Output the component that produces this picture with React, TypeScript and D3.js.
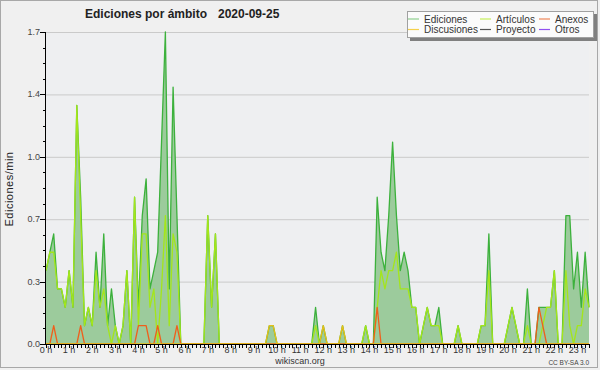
import * as d3 from "d3"

// Ediciones/min, tramos de 10 minutos desde 00:00 (12 tramos = 2 horas por fila)
const ediciones = [
  0.4, 0.5, 0.6, 0.3, 0.3, 0.2, 0.4, 0.2, 1.3, 0.8, 0.1, 0.2,
  0.1, 0.5, 0.2, 0.6, 0.1, 0.3, 0.1, 0, 0.1, 0.4, 0, 0.8,
  0.2, 0.7, 0.9, 0.3, 0.4, 0.5, 1.1, 1.7, 0.3, 1.4, 0.7, 0,
  0, 0, 0, 0, 0, 0, 0.7, 0.2, 0.6, 0, 0, 0,
  0, 0, 0, 0, 0, 0, 0, 0, 0, 0, 0.1, 0.1,
  0, 0, 0, 0, 0, 0, 0, 0, 0, 0, 0.2, 0,
  0.1, 0, 0, 0, 0, 0.1, 0, 0, 0, 0, 0, 0.1,
  0, 0, 0.8, 0.5, 0.4, 0.7, 1.1, 0.7, 0.4, 0.5, 0.4, 0.2,
  0.2, 0, 0.1, 0.2, 0.1, 0.1, 0.2, 0, 0, 0, 0, 0.1,
  0, 0, 0, 0, 0, 0.1, 0.1, 0.6, 0, 0, 0, 0,
  0.1, 0.2, 0.1, 0, 0, 0.3, 0, 0, 0.2, 0.2, 0.2, 0.2,
  0.4, 0, 0, 0.7, 0.7, 0.3, 0.5, 0.2, 0.5, 0.2,
]

const articulos = [
  0.4, 0.5, 0.5, 0.3, 0.3, 0.2, 0.4, 0.2, 1.3, 0.7, 0.1, 0.2,
  0.1, 0.4, 0.2, 0.3, 0.1, 0, 0.1, 0, 0.1, 0.4, 0, 0.8,
  0.1, 0.6, 0.6, 0.2, 0.3, 0, 0.3, 0.7, 0.1, 0.6, 0.5, 0,
  0, 0, 0, 0, 0, 0, 0.7, 0.2, 0.6, 0, 0, 0,
  0, 0, 0, 0, 0, 0, 0, 0, 0, 0, 0, 0,
  0, 0, 0, 0, 0, 0, 0, 0, 0, 0, 0.1, 0,
  0, 0, 0, 0, 0, 0, 0, 0, 0, 0, 0, 0.1,
  0, 0, 0.2, 0.4, 0.3, 0.4, 0.4, 0.5, 0.3, 0.3, 0.3, 0.2,
  0.2, 0, 0.1, 0.2, 0.1, 0.1, 0.1, 0, 0, 0, 0, 0.1,
  0, 0, 0, 0, 0, 0.1, 0.1, 0.4, 0, 0, 0, 0,
  0.1, 0.2, 0.1, 0, 0, 0.1, 0, 0, 0, 0.1, 0.2, 0.2,
  0.4, 0, 0, 0.4, 0.1, 0, 0.1, 0.1, 0.3, 0.2,
]

const anexos = [
  0, 0, 0.1, 0, 0, 0, 0, 0, 0, 0.1, 0, 0,
  0, 0, 0, 0, 0, 0, 0, 0, 0, 0, 0, 0,
  0.1, 0.1, 0.1, 0, 0, 0.1, 0, 0, 0, 0, 0.1, 0,
  0, 0, 0, 0, 0, 0, 0, 0, 0, 0, 0, 0,
  0, 0, 0, 0, 0, 0, 0, 0, 0, 0, 0, 0,
  0, 0, 0, 0, 0, 0, 0, 0, 0, 0, 0, 0,
  0, 0, 0, 0, 0, 0, 0, 0, 0, 0, 0, 0,
  0, 0, 0.2, 0, 0, 0, 0, 0, 0, 0, 0, 0,
  0, 0, 0, 0, 0, 0, 0, 0, 0, 0, 0, 0,
  0, 0, 0, 0, 0, 0, 0, 0, 0, 0, 0, 0,
  0, 0, 0, 0, 0, 0, 0, 0, 0.2, 0.1, 0, 0,
  0, 0, 0, 0, 0, 0, 0, 0, 0, 0,
]

const discusiones = [
  0, 0, 0, 0, 0, 0, 0, 0, 0, 0, 0, 0,
  0, 0, 0, 0, 0, 0, 0, 0, 0, 0, 0, 0,
  0, 0, 0, 0, 0, 0, 0, 0, 0, 0, 0, 0,
  0, 0, 0, 0, 0, 0, 0, 0, 0, 0, 0, 0,
  0, 0, 0, 0, 0, 0, 0, 0, 0, 0, 0.1, 0.1,
  0, 0, 0, 0, 0, 0, 0, 0, 0, 0, 0, 0,
  0.1, 0, 0, 0, 0, 0.1, 0, 0, 0, 0, 0, 0,
  0, 0, 0, 0, 0, 0, 0, 0, 0, 0, 0, 0,
  0, 0, 0, 0, 0, 0, 0, 0, 0, 0, 0, 0,
  0, 0, 0, 0, 0, 0, 0, 0, 0, 0, 0, 0,
  0, 0, 0, 0, 0, 0, 0, 0, 0, 0, 0, 0,
  0, 0, 0, 0, 0, 0, 0, 0, 0, 0,
]

const horas = [
  "0 h", "1 h", "2 h", "3 h", "4 h", "5 h", "6 h", "7 h", "8 h", "9 h", "10 h", "11 h",
  "12 h", "13 h", "14 h", "15 h", "16 h", "17 h", "18 h", "19 h", "20 h", "21 h", "22 h", "23 h",
]

const yTicks = [0, 0.34, 0.68, 1.02, 1.36, 1.7]
const yTickLabels = ["0.0", "0.3", "0.7", "1.0", "1.4", "1.7"]

const leyenda = [
  { name: "Ediciones", color: "#8fd08f" },
  { name: "Artículos", color: "#c6f05a" },
  { name: "Anexos", color: "#f0875a" },
  { name: "Discusiones", color: "#f5d04a" },
  { name: "Proyecto", color: "#555555" },
  { name: "Otros", color: "#9050f0" },
]

const FONT = "'Liberation Sans', Arial, sans-serif"

export default function App() {
  const width = 600
  const height = 370
  const left = 46
  const right = 589
  const top = 32
  const bottom = 344

  const x = d3.scaleLinear().domain([0, ediciones.length - 1]).range([left, right])
  const y = d3.scaleLinear().domain([0, 1.7]).range([bottom, top])

  const area = d3
    .area<number>()
    .x((_, i) => x(i))
    .y0(y(0))
    .y1((d) => y(d))

  const line = d3
    .line<number>()
    .x((_, i) => x(i))
    .y((d) => y(d))

  // minor ticks: 4 per major step
  const yMinor = d3.range(0, 21).map((k) => (1.7 / 20) * k)

  const legendCols = [408, 480, 539]
  const legendRows = [19, 29.5]

  return (
    <div style={{ position: "absolute", left: 0, top: 0 }}>
      <svg width={width} height={height} style={{ display: "block" }}>
        <rect x={0} y={0} width={width} height={height} fill="#f0f0f0" />
        <rect x={0.5} y={0.5} width={597} height={367} fill="none" stroke="#a8a8a8" />

        {/* plot background + grid */}
        <rect x={left} y={top} width={right - left} height={bottom - top} fill="#eeeff1" />
        {yTicks.slice(1).map((t) => (
          <line key={t} x1={left} x2={right} y1={y(t) + 0.5} y2={y(t) + 0.5} stroke="#cacaca" />
        ))}

        {/* series */}
        <path d={area(ediciones) ?? ""} fill="#9ccb9c" />
        <path d={line(ediciones) ?? ""} fill="none" stroke="#3cb13c" strokeWidth={1.3} strokeLinejoin="round" />
        <path d={line(articulos) ?? ""} fill="none" stroke="#a4e61a" strokeWidth={1.3} strokeLinejoin="round" />
        <path d={line(anexos) ?? ""} fill="none" stroke="#ef5f1c" strokeWidth={1.3} strokeLinejoin="round" />
        <path d={line(discusiones) ?? ""} fill="none" stroke="#e8bf18" strokeWidth={1.3} strokeLinejoin="round" />

        {/* y axis */}
        <line x1={left - 0.5} x2={left - 0.5} y1={top} y2={bottom} stroke="#000" />
        {yMinor.map((t, k) => (
          <line
            key={k}
            x1={k % 4 === 0 ? left - 6 : left - 3}
            x2={left}
            y1={Math.round(y(t)) + 0.5}
            y2={Math.round(y(t)) + 0.5}
            stroke="#000"
          />
        ))}
        {yTicks.map((t, k) => (
          <text
            key={t}
            x={40}
            y={y(t) + 3}
            textAnchor="end"
            fontFamily={FONT}
            fontSize={9}
            fill="#444"
          >
            {yTickLabels[k]}
          </text>
        ))}
        <text
          transform="translate(13,189) rotate(-90)"
          textAnchor="middle"
          fontFamily={FONT}
          fontSize={11}
          letterSpacing={0.5}
          fill="#222"
        >
          Ediciones/min
        </text>

        {/* x axis */}
        <line x1={left} x2={right} y1={bottom + 0.5} y2={bottom + 0.5} stroke="#000" />
        {ediciones.map((_, i) => (
          <line
            key={i}
            x1={Math.round(x(i)) + 0.5}
            x2={Math.round(x(i)) + 0.5}
            y1={bottom}
            y2={bottom + 4}
            stroke="#000"
          />
        ))}
        {horas.map((h, k) => (
          <text
            key={h}
            x={x(k * 6)}
            y={353}
            textAnchor="middle"
            fontFamily={FONT}
            fontSize={9}
            fill="#333"
          >
            {h}
          </text>
        ))}

        {/* title */}
        <text x={85} y={18} fontFamily={FONT} fontSize={12} fontWeight="bold" fill="#222">
          Ediciones por ámbito
        </text>
        <text x={218} y={18} fontFamily={FONT} fontSize={12} fontWeight="bold" fill="#222">
          2020-09-25
        </text>

        {/* legend */}
        <rect x={410} y={14} width={187} height={27} fill="#808080" />
        <rect x={407.5} y={11.5} width={186} height={26} fill="#fbfbfb" stroke="#a0a0a0" />
        {leyenda.map((item, k) => {
          const cx = legendCols[k % 3]
          const cy = legendRows[Math.floor(k / 3)]
          return (
            <g key={item.name}>
              <line x1={cx} x2={cx + 11} y1={cy} y2={cy} stroke={item.color} strokeWidth={1.2} />
              <text x={cx + 16} y={cy + 3.5} fontFamily={FONT} fontSize={10} fill="#333">
                {item.name}
              </text>
            </g>
          )
        })}

        {/* footer */}
        <text x={300} y={364} textAnchor="middle" fontFamily={FONT} fontSize={9} fill="#333">
          wikiscan.org
        </text>
        <text x={589} y={365} textAnchor="end" fontFamily={FONT} fontSize={6.5} fill="#444">
          CC BY-SA 3.0
        </text>
      </svg>
    </div>
  )
}
